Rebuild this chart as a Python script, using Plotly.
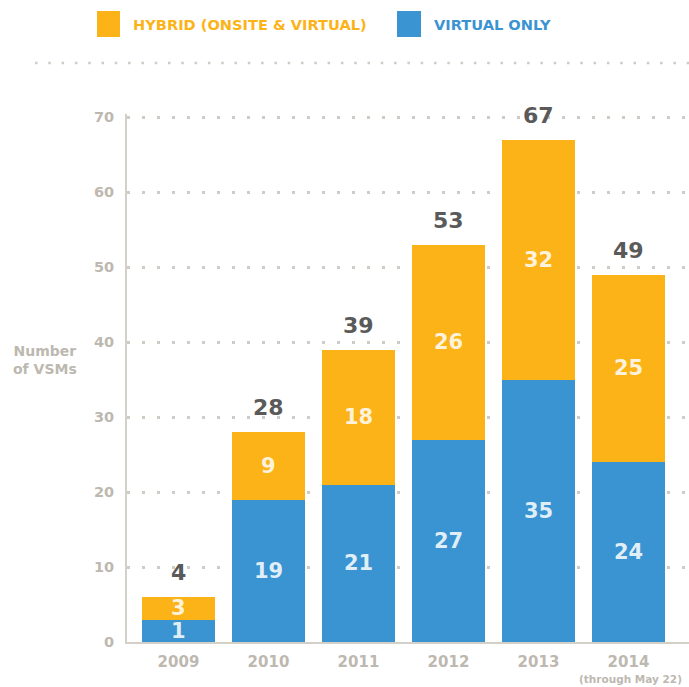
import plotly.graph_objects as go

# ---- data ----
years = ["2009", "2010", "2011", "2012", "2013", "2014"]
virtual_only = [1, 19, 21, 27, 35, 24]
hybrid = [3, 9, 18, 26, 32, 25]
totals = [4, 28, 39, 53, 67, 49]
y_ticks = [0, 10, 20, 30, 40, 50, 60, 70]

# style
ORANGE = "#FBB317"
BLUE = "#3A94D2"
GREY = "#BDB8B0"
DARK = "#5A5A5A"
FONT = "DejaVu Sans"
MIN_SEG = 3  # minimum drawn segment height so that labels stay legible

disp_v = [max(v, MIN_SEG) for v in virtual_only]
disp_h = [max(h, MIN_SEG) for h in hybrid]
x_idx = list(range(len(years)))

fig = go.Figure()
fig.add_trace(go.Bar(
    x=x_idx, y=disp_v, marker=dict(color=BLUE, line=dict(width=0)),
    customdata=virtual_only, hovertemplate="Virtual only: %{customdata}<extra></extra>",
    name="VIRTUAL ONLY", showlegend=False))
fig.add_trace(go.Bar(
    x=x_idx, y=disp_h, marker=dict(color=ORANGE, line=dict(width=0)),
    customdata=hybrid, hovertemplate="Hybrid: %{customdata}<extra></extra>",
    name="HYBRID (ONSITE & VIRTUAL)", showlegend=False))

IN_FONT = dict(family=FONT, size=21, color="rgba(255,255,255,0.85)", weight="bold")
annotations = []
for i in x_idx:
    annotations.append(dict(x=i, y=disp_v[i] / 2, xref="x", yref="y", text=str(virtual_only[i]),
                            showarrow=False, font=IN_FONT))
    annotations.append(dict(x=i, y=disp_v[i] + disp_h[i] / 2, xref="x", yref="y", text=str(hybrid[i]),
                            showarrow=False, font=IN_FONT))
    annotations.append(dict(x=i, y=disp_v[i] + disp_h[i], xref="x", yref="y", text=str(totals[i]),
                            showarrow=False, yanchor="bottom", yshift=10,
                            font=dict(family=FONT, size=22, color=DARK, weight="bold")))

# plot area geometry: left 127, right 689, top 114, bottom 642
L, R, T, B = 127, 689, 114, 642
W, H = R - L, B - T
def px(xp):
    return (xp - L) / W
def py(yp):
    return (B - yp) / H

# axis title
annotations.append(dict(x=px(45), y=py(360), xref="paper", yref="paper", text="Number<br>of VSMs",
                        xanchor="center", yanchor="middle", showarrow=False, align="center",
                        font=dict(family=FONT, size=14, color=GREY, weight="bold")))
# note under 2014
annotations.append(dict(x=px(630), y=py(679), xref="paper", yref="paper", text="(through May 22)",
                        xanchor="center", yanchor="middle", showarrow=False,
                        font=dict(family=FONT, size=10.5, color=GREY, weight="bold")))
# legend texts
annotations.append(dict(x=px(131), y=py(24), xref="paper", yref="paper", text="HYBRID (ONSITE &amp; VIRTUAL)",
                        xanchor="left", yanchor="middle", showarrow=False,
                        font=dict(family=FONT, size=14.6, color=ORANGE, weight="bold")))
annotations.append(dict(x=px(432), y=py(24), xref="paper", yref="paper", text="VIRTUAL ONLY",
                        xanchor="left", yanchor="middle", showarrow=False,
                        font=dict(family=FONT, size=14.6, color=BLUE, weight="bold")))

shapes = [
    dict(type="rect", xref="paper", yref="paper", x0=px(97), x1=px(120), y0=py(37), y1=py(11),
         fillcolor=ORANGE, line=dict(width=0)),
    dict(type="rect", xref="paper", yref="paper", x0=px(397), x1=px(421), y0=py(37), y1=py(11),
         fillcolor=BLUE, line=dict(width=0)),
    dict(type="line", xref="paper", yref="paper", x0=px(35), x1=px(689), y0=py(63), y1=py(63),
         line=dict(color="#CFCBC5", width=2.5, dash="2.5px,10.8px")),
]

fig.update_layout(
    width=689, height=687,
    margin=dict(l=L, r=689 - R, t=T, b=687 - B, autoexpand=False),
    paper_bgcolor="white", plot_bgcolor="white",
    barmode="stack", bargap=0.19,
    annotations=annotations, shapes=shapes,
    font=dict(family=FONT),
)
fig.update_xaxes(
    range=[-0.572, -0.572 + W / 90], tickvals=x_idx, ticktext=years,
    showgrid=False, zeroline=False, showline=True, linecolor="#D3CFC9", linewidth=2,
    ticks="", ticklabelstandoff=5, automargin=False,
    tickfont=dict(family=FONT, size=15, color=GREY, weight="bold"),
)
fig.update_yaxes(
    range=[0, 70.4], tickvals=y_ticks, ticktext=[str(t) for t in y_ticks],
    showgrid=True, gridcolor="#CFCBC5", gridwidth=2.5, griddash="2.5px,12.5px",
    zeroline=False, showline=True, linecolor="#D3CFC9", linewidth=2,
    ticks="", ticklabelstandoff=8, automargin=False,
    tickfont=dict(family=FONT, size=14.5, color=GREY, weight="bold"),
)

fig.write_html("out.html", config={"displayModeBar": False},
               post_script="document.body.style.margin='0px';")
